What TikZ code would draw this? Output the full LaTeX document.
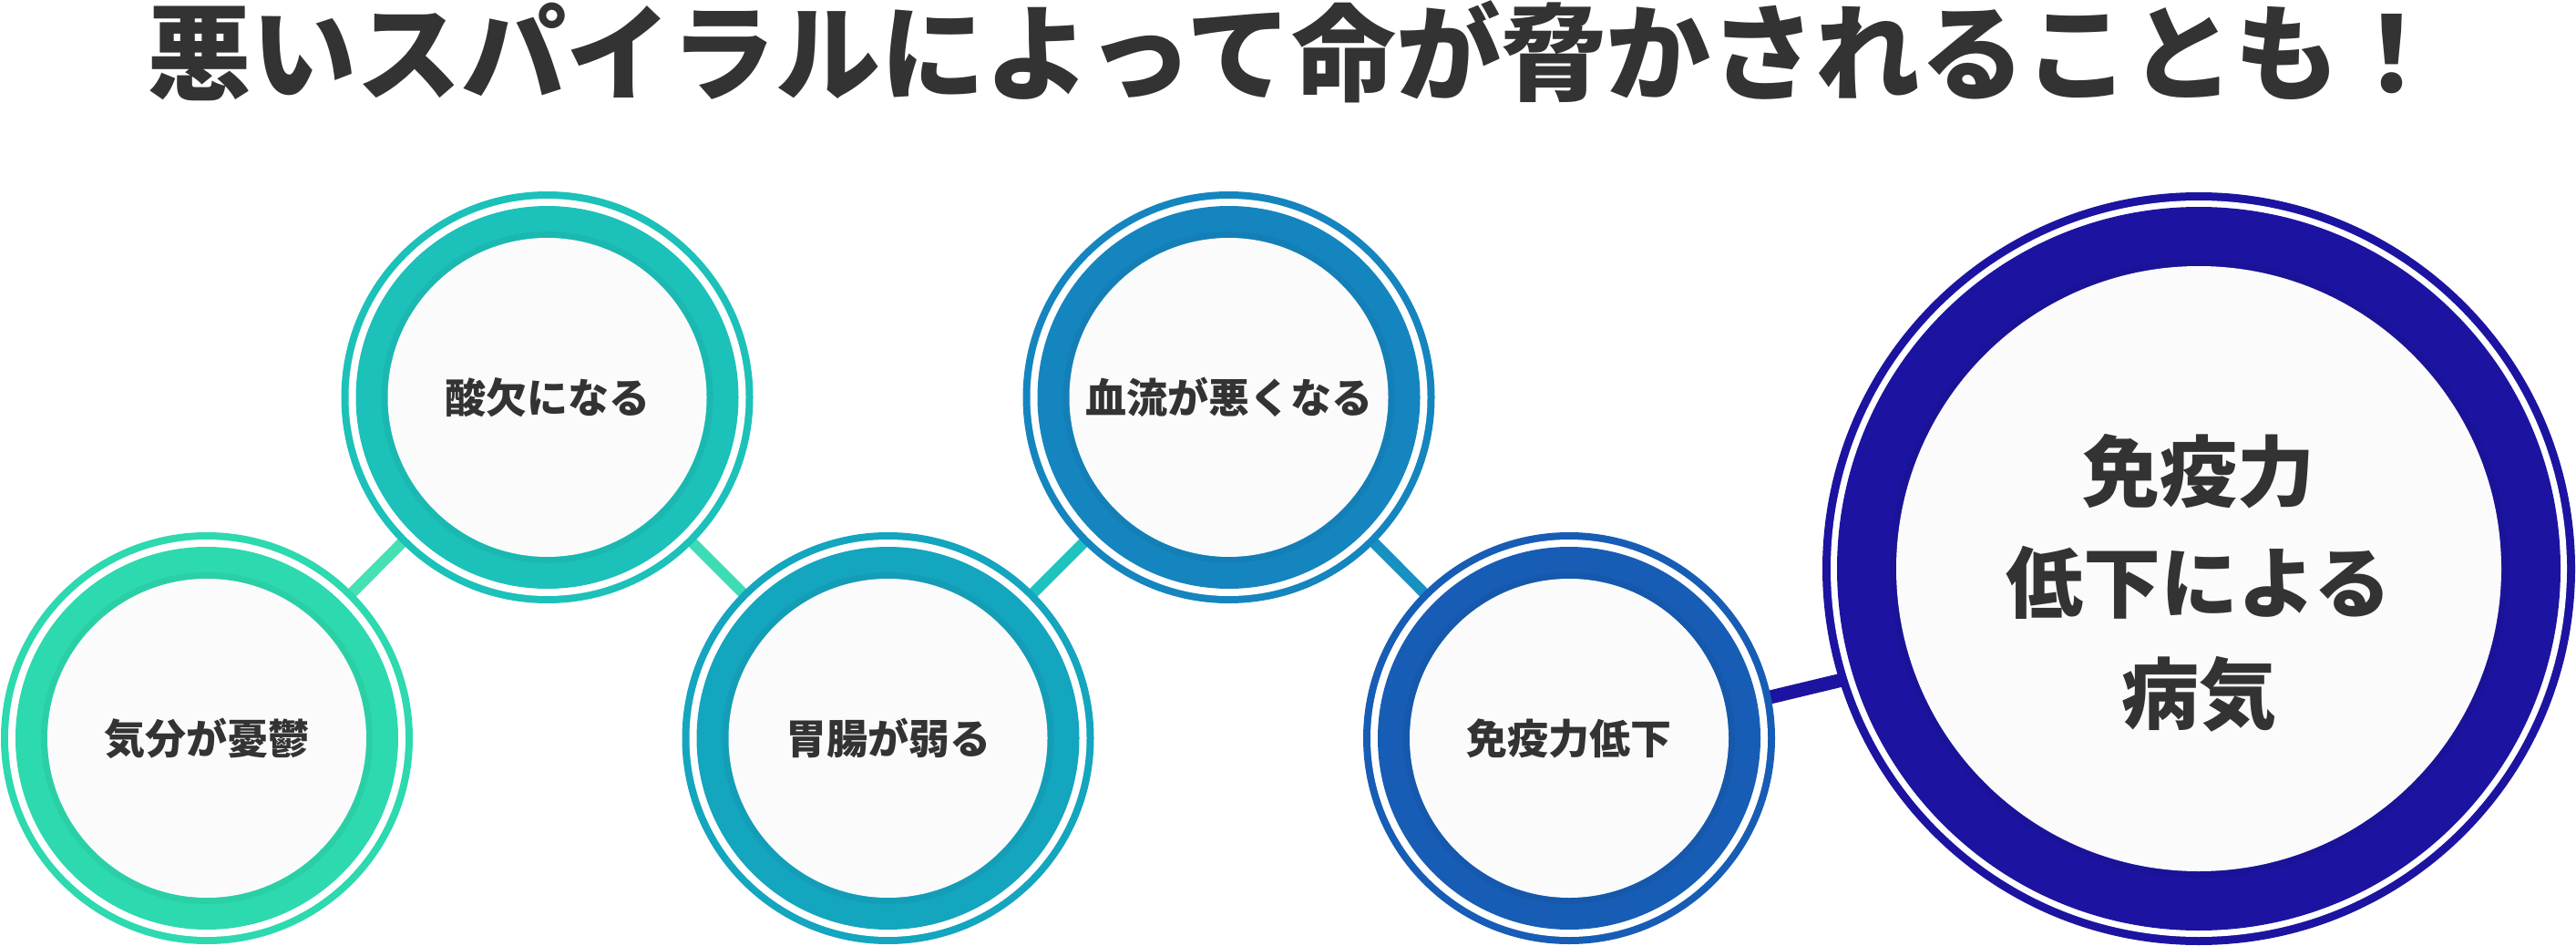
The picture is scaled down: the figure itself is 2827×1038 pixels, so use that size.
\documentclass[tikz,border=0pt]{standalone}
\usepackage{fontspec}
\usetikzlibrary{calc}
\newfontfamily\jp{Noto Sans CJK JP}
\definecolor{txt}{HTML}{333333}
\definecolor{innerw}{HTML}{FBFBFC}
\definecolor{ringA}{HTML}{2DD9AE}
\definecolor{ringB}{HTML}{1CC1B9}
\definecolor{ringC}{HTML}{14A5BF}
\definecolor{ringD}{HTML}{1585BF}
\definecolor{ringE}{HTML}{175DB5}
\definecolor{ringF}{HTML}{1C14A0}
\definecolor{connA}{HTML}{45E0B4}
\definecolor{connB}{HTML}{3EDCB4}
\definecolor{connC}{HTML}{1EC3BF}
\definecolor{connD}{HTML}{1890C2}
\definecolor{connE}{HTML}{1C14A0}
\pgfdeclarelayer{bg}
\pgfsetlayers{bg,main}
\newcommand{\ringset}[6]{%
  \fill[#2] (#1) circle (#3);
  \fill[white] (#1) circle (#4);
  \fill[#2] (#1) circle (#5);
  \draw[#2!75!black, opacity=0.18, line width=7pt] (#1) circle ({#6+3.5pt});
  \fill[innerw] (#1) circle (#6);
}
\tikzset{
  lbl/.style={circle, inner sep=0pt, minimum size=350pt, text=txt,
    font=\jp\bfseries\fontsize{45}{54}\selectfont},
  biglbl/.style={circle, inner sep=0pt, minimum size=664pt, text=txt, align=center,
    font=\jp\bfseries\fontsize{85}{122}\selectfont},
  titlelbl/.style={inner sep=0pt, text=txt, font=\jp\bfseries\fontsize{115}{130}\selectfont},
  conn/.style={line width=12pt},
}
\begin{document}
\begin{tikzpicture}[x=1pt,y=-1pt]
\useasboundingbox (0,0) rectangle (2827,1038);
\begin{pgfonlayer}{bg}
  \fill[white] (0,0) rectangle (2827,1038);
\end{pgfonlayer}

\coordinate (c1) at (227,810);
\coordinate (c2) at (600.5,436);
\coordinate (c3) at (974.5,810);
\coordinate (c4) at (1348.5,436);
\coordinate (c5) at (1722,810);
\coordinate (c6) at (2413,624);

\node[titlelbl] (title) at (1422,57) {悪いスパイラルによって命が脅かされることも！};

\ringset{c1}{ringA}{226pt}{218pt}{210pt}{175pt}
\ringset{c2}{ringB}{226pt}{218pt}{210pt}{175pt}
\ringset{c3}{ringC}{226pt}{218pt}{210pt}{175pt}
\ringset{c4}{ringD}{226pt}{218pt}{210pt}{175pt}
\ringset{c5}{ringE}{226pt}{218pt}{210pt}{175pt}
\ringset{c6}{ringF}{413pt}{404pt}{397pt}{332pt}

\node[lbl] (n1) at (c1) {気分が憂鬱};
\node[lbl] (n2) at (c2) {酸欠になる};
\node[lbl] (n3) at (c3) {胃腸が弱る};
\node[lbl] (n4) at (c4) {血流が悪くなる};
\node[lbl] (n5) at (c5) {免疫力低下};
\node[biglbl] (n6) at (2413,640) {免疫力\\低下による\\病気};

\begin{pgfonlayer}{bg}
  \draw[conn, connA] (n1) -- (n2);
  \draw[conn, connB] (n2) -- (n3);
  \draw[conn, connC] (n3) -- (n4);
  \draw[conn, connD] (n4) -- (n5);
  \draw[line width=15pt, connE] ($(n5.center)+(0,8)$) -- ($(n6.center)+(0,12)$);
\end{pgfonlayer}
\end{tikzpicture}
\end{document}
